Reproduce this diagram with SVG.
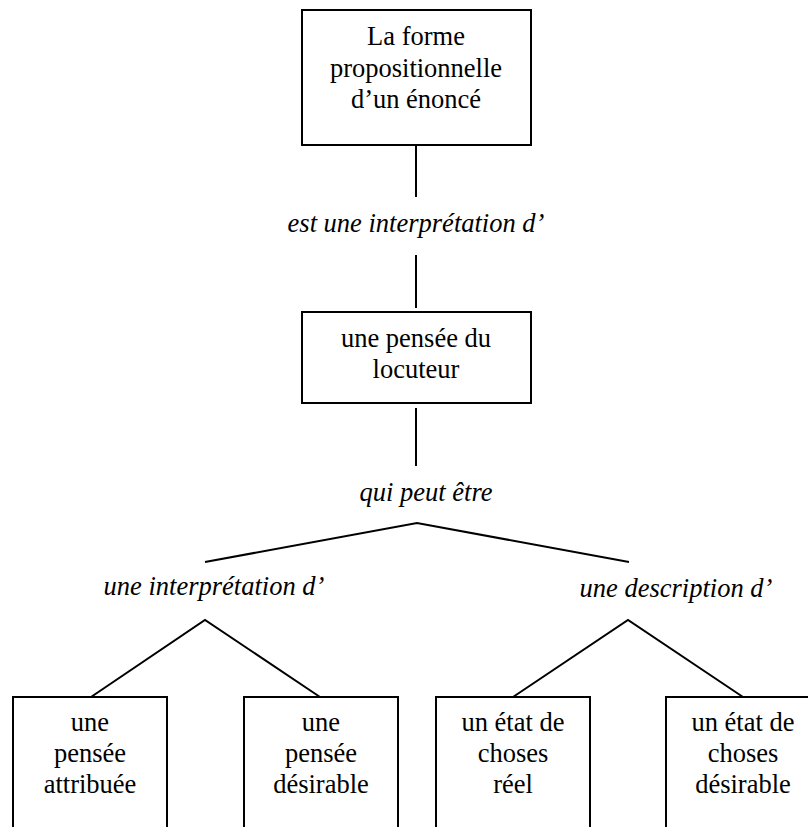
<svg xmlns="http://www.w3.org/2000/svg" width="808" height="827" viewBox="0 0 808 827">
  <style>
    .box { fill: #ffffff; stroke: #000000; stroke-width: 2; }
    .link { fill: none; stroke: #000000; stroke-width: 2; }
    text { font-family: "Liberation Serif", "Times New Roman", serif; font-size: 26.5px; fill: #000000; text-anchor: middle; }
    .rel { font-style: italic; }
  </style>
  <rect width="808" height="827" fill="#ffffff"/>

  <!-- connectors -->
  <g id="connectors">
    <line class="link" x1="416" y1="145" x2="416" y2="197"/>
    <line class="link" x1="416" y1="255" x2="416" y2="308"/>
    <line class="link" x1="416" y1="408" x2="416" y2="466"/>
    <polyline class="link" points="205,562 417,523 629,562"/>
    <polyline class="link" points="91,697 205,620 320,697"/>
    <polyline class="link" points="513,697 628,620 743,697"/>
  </g>

  <!-- relation labels -->
  <g id="labels">
    <text class="rel" x="416" y="232">est une interprétation d’</text>
    <text class="rel" x="426" y="501">qui peut être</text>
    <text class="rel" x="214" y="595">une interprétation d’</text>
    <text class="rel" x="676" y="597">une description d’</text>
  </g>

  <g id="forme">
    <rect class="box" x="302" y="10" width="229" height="135"/>
    <text x="416" y="45">La forme</text>
    <text x="416" y="77">propositionnelle</text>
    <text x="416" y="108">d’un énoncé</text>
  </g>

  <g id="pensee">
    <rect class="box" x="302" y="312" width="229" height="91"/>
    <text x="416" y="347">une pensée du</text>
    <text x="416" y="378">locuteur</text>
  </g>

  <g id="attribuee">
    <rect class="box" x="13" y="697" width="154" height="150"/>
    <text x="90" y="731">une</text>
    <text x="90" y="762">pensée</text>
    <text x="90" y="793">attribuée</text>
  </g>

  <g id="pensee-desirable">
    <rect class="box" x="244" y="697" width="154" height="150"/>
    <text x="321" y="731">une</text>
    <text x="321" y="762">pensée</text>
    <text x="321" y="793">désirable</text>
  </g>

  <g id="etat-reel">
    <rect class="box" x="436" y="697" width="154" height="150"/>
    <text x="513" y="731">un état de</text>
    <text x="513" y="762">choses</text>
    <text x="513" y="793">réel</text>
  </g>

  <g id="etat-desirable">
    <rect class="box" x="666" y="697" width="154" height="150"/>
    <text x="743" y="731">un état de</text>
    <text x="743" y="762">choses</text>
    <text x="743" y="793">désirable</text>
  </g>
</svg>
